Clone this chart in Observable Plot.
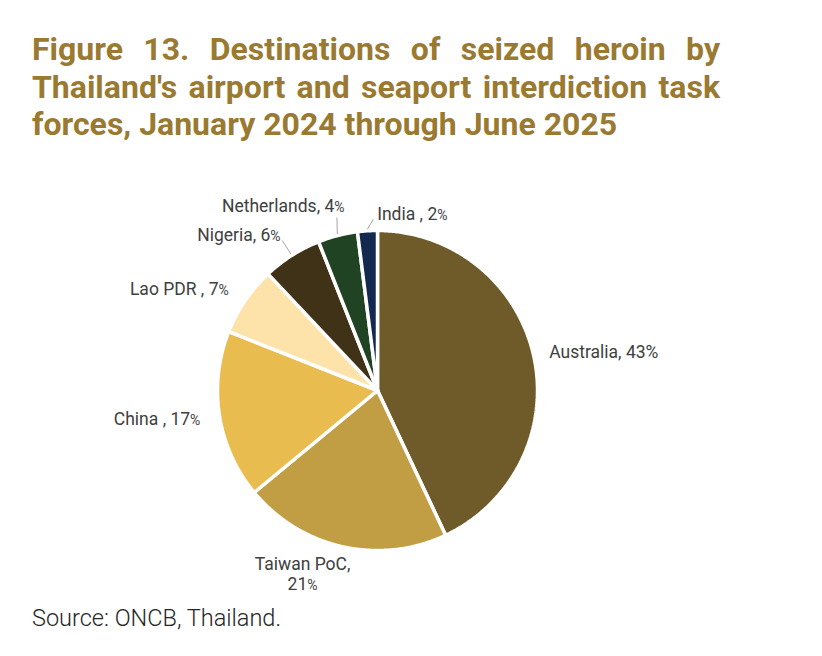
<!DOCTYPE html>
<html>
<head>
<meta charset="utf-8">
<script src="https://cdn.jsdelivr.net/npm/d3@7"></script>
<script src="https://cdn.jsdelivr.net/npm/@observablehq/plot@0.6"></script>
<style>
  html, body { margin: 0; padding: 0; background: #ffffff; }
  body { position: relative; width: 822px; height: 656px; overflow: hidden; font-family: Roboto, sans-serif; }
  #title { position: absolute; left: 32px; top: 31px; width: 688px; color: #997a30; font: 700 32px/37.5px Roboto, sans-serif; }
  #title .just { text-align: justify; text-align-last: justify; }
  #chart { position: absolute; left: 0; top: 160px; }
  #source { position: absolute; left: 32px; top: 604px; font: 300 23.5px Roboto, sans-serif; color: #262626; white-space: nowrap; }
</style>
</head>
<body>
<div id="title">
  <div class="just">Figure 13. Destinations of seized heroin by</div>
  <div class="just">Thailand's airport and seaport interdiction task</div>
  <div>forces, January 2024 through June 2025</div>
</div>
<div id="chart"></div>
<div id="source">Source: ONCB, Thailand.</div>
<script>
// Shares of seized heroin by destination (%)
const destinations = ["Australia", "Taiwan PoC", "China", "Lao PDR", "Nigeria", "Netherlands", "India"];
const shares = [43, 21, 17, 7, 6, 4, 2];
const labelPrefixes = ["Australia, ", "Taiwan PoC,\n", "China , ", "Lao PDR , ", "Nigeria, ", "Netherlands, ", "India , "];
const sliceColors = ["#6f5a29", "#c19d43", "#e9bc4f", "#fde3a9", "#3f3217", "#1f4323", "#13294f"];

// Label placement around the pie: angle shift (deg), distance (pie radii), anchor,
// and an optional leader line for the thin slices.
const labelPlacement = {
  "Australia":   {shift: 0,   r: 1.10,  anchor: "start"},
  "Taiwan PoC":  {shift: 9.7, r: 1.234, anchor: "middle"},
  "China":       {shift: 0,   r: 1.121, anchor: "end"},
  "Lao PDR":     {shift: 0.3, r: 1.128, anchor: "end"},
  "Nigeria":     {shift: 0.5, r: 1.146, anchor: "end",   leader: {shift: 0,   r: 1.11}},
  "Netherlands": {shift: 4.3, r: 1.175, anchor: "end",   leader: {shift: 1.2, r: 1.11}},
  "India":       {shift: 3.5, r: 1.108, anchor: "start", leader: {shift: 2.2, r: 1.07}}
};
// Labels whose percent sign keeps the full text size
const fullSizePercent = new Set(["Australia"]);

const W = 822, H = 440;      // svg size
const R = 160;               // pie radius in pixels
const cx = 377, cy = 230;    // pie centre inside the svg

const polar = (deg, r) => ({x: r * Math.sin(deg * Math.PI / 180), y: r * Math.cos(deg * Math.PI / 180)});

const total = d3.sum(shares);
let acc = 0;
const slices = destinations.map((name, i) => {
  const a0 = acc / total * 360;
  acc += shares[i];
  const a1 = acc / total * 360;
  return {name, share: shares[i], a0, a1, mid: (a0 + a1) / 2, label: labelPrefixes[i] + shares[i] + "%"};
});

// Outline of each wedge: centre -> arc -> centre
const wedgePoints = slices.flatMap(s => {
  const n = Math.max(2, Math.ceil((s.a1 - s.a0) / 0.5));
  const pts = [{name: s.name, x: 0, y: 0}];
  for (let k = 0; k <= n; ++k) {
    const p = polar(s.a0 + (s.a1 - s.a0) * k / n, 1);
    pts.push({name: s.name, ...p});
  }
  pts.push({name: s.name, x: 0, y: 0});
  return pts;
});

const labelData = slices.map(s => {
  const pl = labelPlacement[s.name];
  return {...s, anchor: pl.anchor, ...polar(s.mid + pl.shift, pl.r)};
});

const leaderData = slices.filter(s => labelPlacement[s.name].leader).map(s => {
  const ld = labelPlacement[s.name].leader;
  const p1 = polar(s.mid, 1.01), p2 = polar(s.mid + ld.shift, ld.r);
  return {x1: p1.x, y1: p1.y, x2: p2.x, y2: p2.y};
});

const labelStyle = {text: "label", fontSize: 17.5, fill: "#404040", lineHeight: 1.14};

const chart = Plot.plot({
  width: W,
  height: H,
  margin: 0,
  style: {fontFamily: "Roboto, sans-serif", background: "transparent"},
  x: {domain: [-cx / R, (W - cx) / R], axis: null},
  y: {domain: [-(H - cy) / R, cy / R], axis: null},
  color: {domain: destinations, range: sliceColors},
  marks: [
    Plot.line(wedgePoints, {x: "x", y: "y", z: "name", fill: "name", stroke: "#ffffff", strokeWidth: 3.5, strokeLinejoin: "miter"}),
    Plot.link(leaderData, {x1: "x1", y1: "y1", x2: "x2", y2: "y2", stroke: "#a6a6a6", strokeWidth: 1}),
    Plot.text(labelData.filter(d => d.anchor === "start"), {x: "x", y: "y", textAnchor: "start", ...labelStyle}),
    Plot.text(labelData.filter(d => d.anchor === "end"), {x: "x", y: "y", textAnchor: "end", ...labelStyle}),
    Plot.text(labelData.filter(d => d.anchor === "middle"), {x: "x", y: "y", textAnchor: "middle", ...labelStyle})
  ]
});

// Set the percent sign a little smaller in most labels
d3.select(chart).selectAll("text").each(function() {
  const full = this.textContent;
  if (!full.endsWith("%") || [...fullSizePercent].some(n => full.startsWith(n))) return;
  const leaves = this.querySelectorAll("tspan");
  const node = leaves.length ? leaves[leaves.length - 1] : this;
  const t = node.textContent;
  node.textContent = t.slice(0, -1);
  d3.select(node).append("tspan").attr("font-size", "0.8em").text("%");
});

document.getElementById("chart").appendChild(chart);
</script>
</body>
</html>
